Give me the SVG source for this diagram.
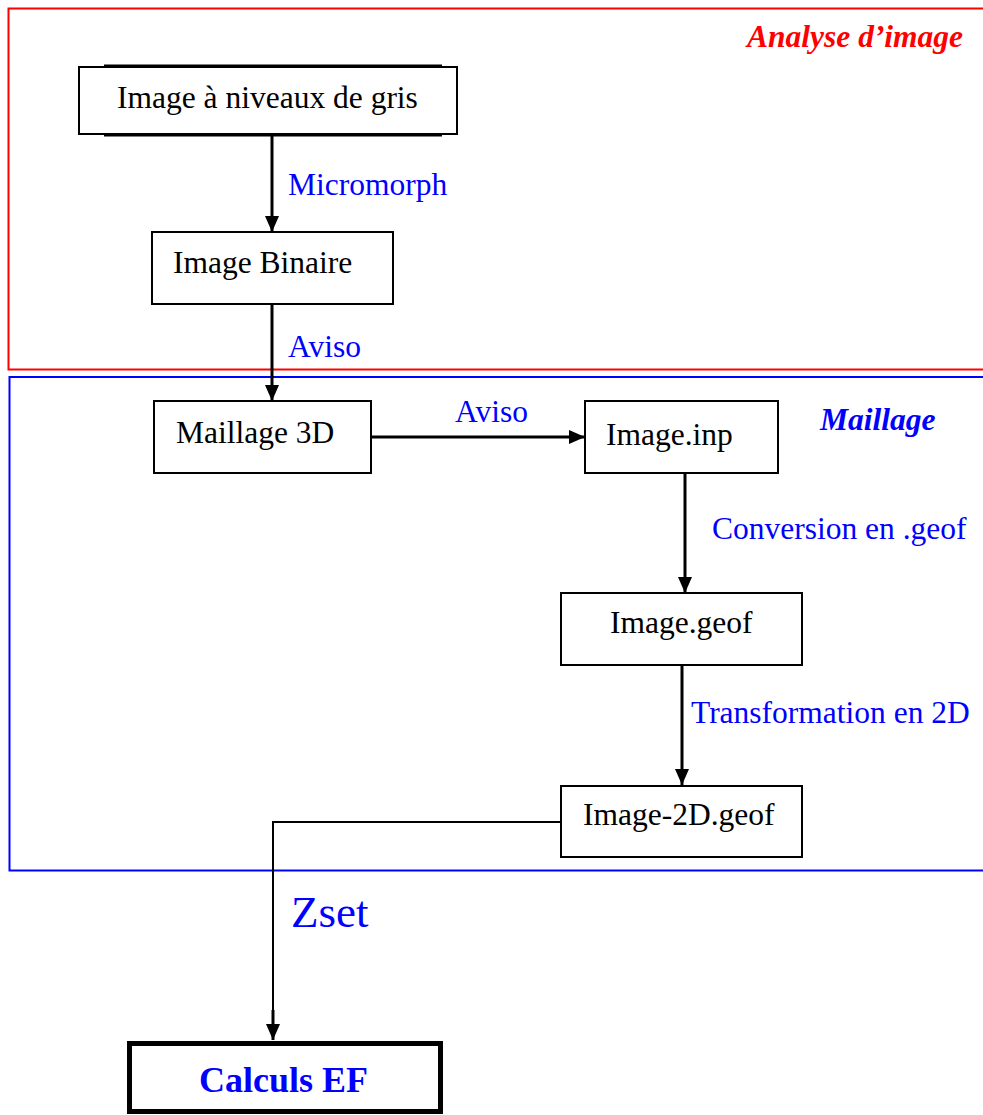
<svg xmlns="http://www.w3.org/2000/svg" width="983" height="1115" viewBox="0 0 983 1115">
<defs>
<marker id="ah" markerUnits="userSpaceOnUse" markerWidth="16" markerHeight="14" refX="16" refY="7" orient="auto">
<path d="M0,0 L16,7 L0,14 z" fill="#000"/>
</marker>
<style>
.box{fill:#fff;stroke:#000;stroke-width:2}
.t{font-family:"Liberation Serif","Times New Roman",serif;font-size:31.5px;fill:#000}
.lb{font-family:"Liberation Serif","Times New Roman",serif;font-size:31.5px;fill:#0000ff}
.c{fill:none;stroke:#000;stroke-width:3}
</style>
</defs>
<rect width="983" height="1115" fill="#fff"/>
<g id="frames">
<rect x="8.5" y="8.5" width="990" height="361" fill="none" stroke="#ff0000" stroke-width="2"/>
<rect x="9.5" y="377" width="990" height="493.5" fill="none" stroke="#0000ff" stroke-width="2"/>
<text x="747" y="47" font-family="Liberation Serif,serif" font-size="31.5" font-weight="bold" font-style="italic" fill="#ff0000">Analyse d’image</text>
<text x="820" y="430" font-family="Liberation Serif,serif" font-size="31.5" font-weight="bold" font-style="italic" fill="#0000ff">Maillage</text>
</g>
<g id="connectors">
<line class="c" x1="272" y1="134" x2="272" y2="232" marker-end="url(#ah)"/>
<line class="c" x1="272" y1="304" x2="272" y2="401" marker-end="url(#ah)"/>
<line class="c" x1="371" y1="437" x2="585" y2="437" marker-end="url(#ah)"/>
<line class="c" x1="685" y1="473" x2="685" y2="593" marker-end="url(#ah)"/>
<line class="c" x1="682" y1="665" x2="682" y2="785" marker-end="url(#ah)"/>
<polyline fill="none" stroke="#000" stroke-width="2" points="561,822 273,822 273,1015"/>
<line class="c" x1="273" y1="1010" x2="273" y2="1040" marker-end="url(#ah)"/>
<text class="lb" x="288" y="195">Micromorph</text>
<text class="lb" x="288" y="357">Aviso</text>
<text class="lb" x="455" y="422">Aviso</text>
<text class="lb" x="712" y="539">Conversion en .geof</text>
<text class="lb" x="691" y="723">Transformation en 2D</text>
<text x="291" y="927" font-family="Liberation Serif,serif" font-size="45" fill="#0000ff">Zset</text>
</g>
<g id="n1">
<line x1="104" y1="65.5" x2="442" y2="65.5" stroke="#000" stroke-width="2"/>
<line x1="104" y1="135.5" x2="442" y2="135.5" stroke="#000" stroke-width="2"/>
<rect class="box" x="79" y="67" width="378" height="67"/>
<text class="t" x="117" y="108">Image à niveaux de gris</text>
</g>
<g id="n2">
<rect class="box" x="152" y="232" width="241" height="72"/>
<text class="t" x="173" y="273">Image Binaire</text>
</g>
<g id="n3">
<rect class="box" x="154" y="401" width="217" height="72"/>
<text class="t" x="176" y="443">Maillage 3D</text>
</g>
<g id="n4">
<rect class="box" x="585" y="401" width="193" height="72"/>
<text class="t" x="606" y="445">Image.inp</text>
</g>
<g id="n5">
<rect class="box" x="561" y="593" width="241" height="72"/>
<text class="t" x="610" y="633">Image.geof</text>
</g>
<g id="n6">
<rect class="box" x="561" y="786" width="241" height="71"/>
<text class="t" x="583" y="825">Image-2D.geof</text>
</g>
<g id="n7">
<rect x="129.5" y="1043.5" width="311" height="68" fill="#fff" stroke="#000" stroke-width="5"/>
<text x="199" y="1092" font-family="Liberation Serif,serif" font-size="36" font-weight="bold" fill="#0000ff">Calculs EF</text>
</g>
</svg>
